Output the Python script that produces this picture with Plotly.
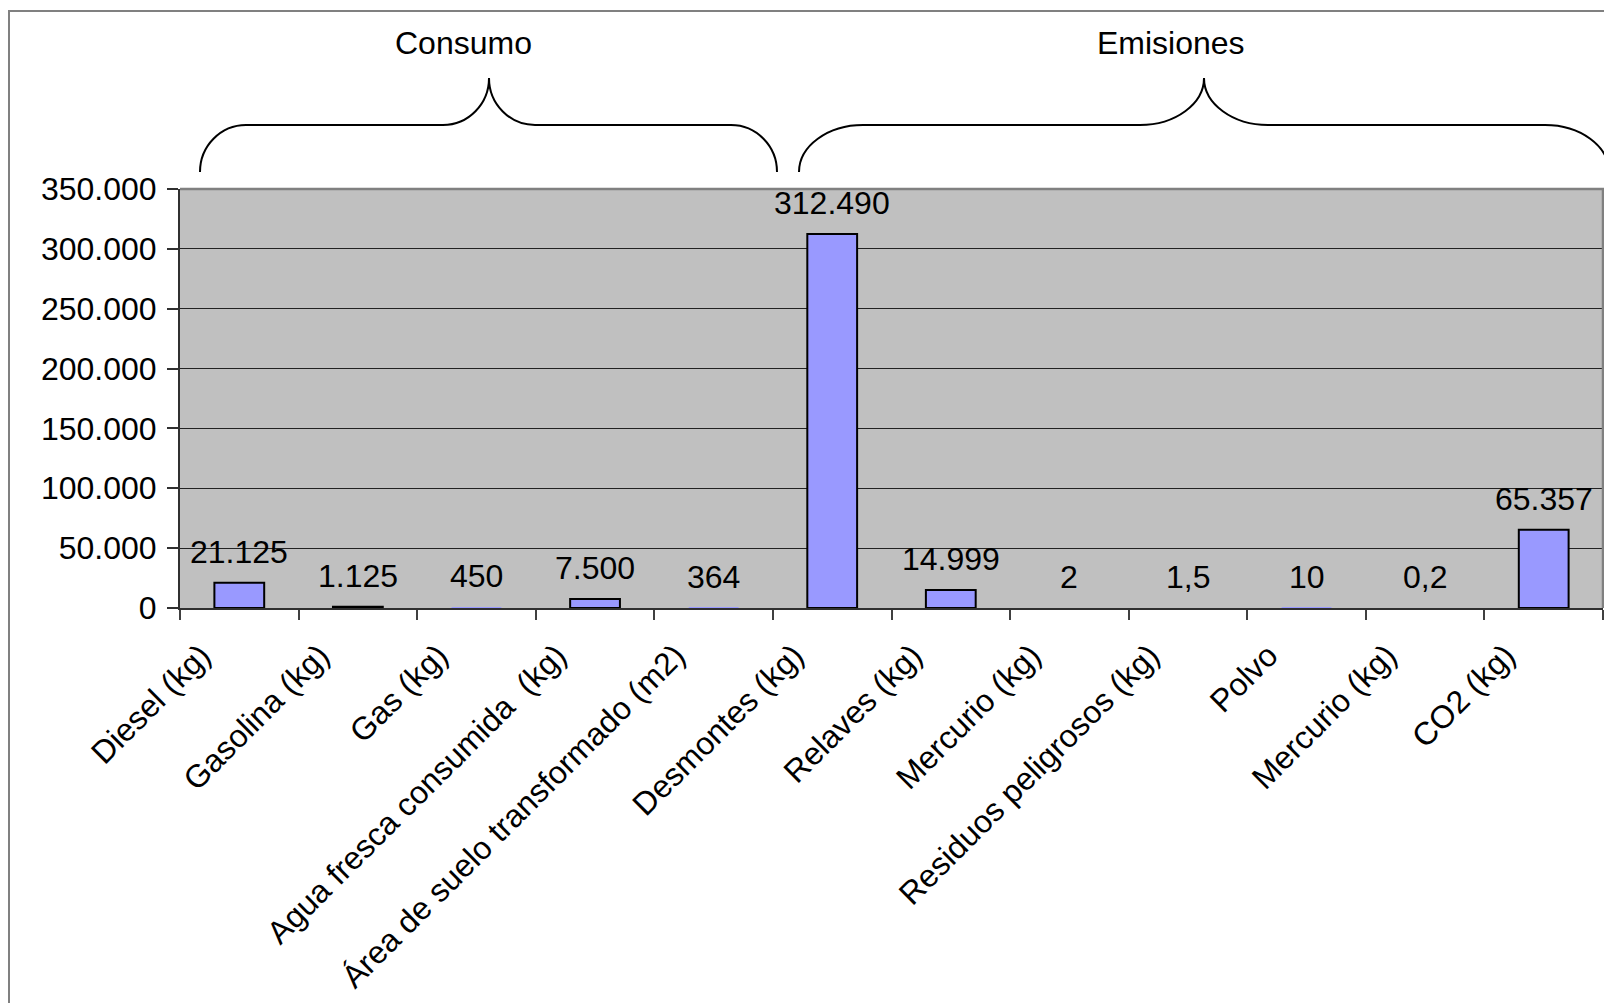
import plotly.graph_objects as go

categories = ["Diesel (kg)", "Gasolina (kg)", "Gas (kg)", "Agua fresca consumida  (kg)",
              "Área de suelo transformado (m2)", "Desmontes (kg)", "Relaves (kg)",
              "Mercurio (kg)", "Residuos peligrosos (kg)", "Polvo", "Mercurio (kg)", "CO2 (kg)"]
values = [21125, 1125, 450, 7500, 364, 312490, 14999, 2, 1.5, 10, 0.2, 65357]
group_labels = ["Consumo", "Emisiones"]

OFF = 8  # browser default body margin
W, H = 1612 - OFF, 1003 - OFF
L, R, T, B = 180, 1603, 189, 608  # plot area in page px
FONT = "Liberation Sans, Arial, sans-serif"
FS = 32


def es(v):
    if float(v).is_integer():
        return f"{int(v):,}".replace(",", ".")
    return str(v).replace(".", ",")


def px(x, y):
    return (x - L) / (R - L), (B - y) / (B - T)


def path(points_cmds):
    out = []
    for cmd, pts in points_cmds:
        coords = " ".join("%.5f,%.5f" % px(x, y) for x, y in pts)
        out.append(f"{cmd} {coords}")
    return " ".join(out)


def brace(x0, x1, xm, cw, ytop=78, yh=125, ybot=172):
    tw = cw
    return path([
        ("M", [(x0, ybot)]),
        ("C", [(x0, ybot - 26), (x0 + cw * 0.45, yh), (x0 + cw, yh)]),
        ("L", [(xm - tw, yh)]),
        ("C", [(xm - tw * 0.45, yh), (xm, yh - 21), (xm, ytop)]),
        ("C", [(xm, yh - 21), (xm + tw * 0.45, yh), (xm + tw, yh)]),
        ("L", [(x1 - cw, yh)]),
        ("C", [(x1 - cw * 0.45, yh), (x1, ybot - 26), (x1, ybot)]),
    ])


xs = list(range(len(categories)))
# bars thinner than about one pixel are not outlined in the original
outline_w = [2 if v >= 1000 else 0 for v in values]

fig = go.Figure()
fig.add_trace(go.Bar(
    x=xs, y=values, width=0.42,
    marker=dict(color="#9999FF", line=dict(color="#000000", width=outline_w)),
    showlegend=False, hoverinfo="skip",
))

annotations = []
for i, v in enumerate(values):
    annotations.append(dict(x=i, y=v, xref="x", yref="y", text=es(v), showarrow=False,
                            yanchor="bottom", yshift=11,
                            font=dict(family=FONT, size=FS, color="#000000")))

cx0, _ = px(463, 0)
cx1, _ = px(1171, 0)
_, ty = px(0, 43)
annotations.append(dict(x=cx0, y=ty, xref="paper", yref="paper", text=group_labels[0],
                        showarrow=False, yanchor="middle", xanchor="center",
                        font=dict(family=FONT, size=FS, color="#000000")))
annotations.append(dict(x=cx1, y=ty, xref="paper", yref="paper", text=group_labels[1],
                        showarrow=False, yanchor="middle", xanchor="center",
                        font=dict(family=FONT, size=FS, color="#000000")))

bx0, by0 = px(9, 11)
bx1, by1 = px(1700, 1100)

shapes = [
    dict(type="path", xref="paper", yref="paper", path=brace(200, 777, 489, 46),
         line=dict(color="#000000", width=2)),
    dict(type="path", xref="paper", yref="paper", path=brace(799, 1609, 1204, 64),
         line=dict(color="#000000", width=2)),
    dict(type="path", xref="paper", yref="paper", path="M 0,1 L 1,1 L 1,0",
         line=dict(color="#808080", width=2.5), layer="above"),
    dict(type="rect", xref="paper", yref="paper", x0=bx0, y0=by0, x1=bx1, y1=by1,
         line=dict(color="#808080", width=2), fillcolor="rgba(0,0,0,0)"),
]

fig.update_layout(
    width=W, height=H,
    margin=dict(l=L - OFF, r=W - (R - OFF), t=T - OFF, b=H - (B - OFF), pad=0),
    paper_bgcolor="#FFFFFF", plot_bgcolor="#C0C0C0",
    separators=",.",
    font=dict(family=FONT, size=FS, color="#000000"),
    bargap=0.58,
    annotations=annotations,
    shapes=shapes,
    xaxis=dict(
        range=[-0.5, len(categories) - 0.5],
        tickmode="array", tickvals=xs, ticktext=categories,
        tickangle=-45, ticks="", showgrid=False, zeroline=False,
        showline=True, linecolor="#303030", linewidth=2,
        tickfont=dict(family=FONT, size=FS, color="#000000"),
        ticklabelshift=-38, ticklabelstandoff=14,
        minor=dict(ticks="outside", ticklen=10, tickwidth=1.5, tickcolor="#404040",
                   tickmode="linear", tick0=-0.5, dtick=1, showgrid=False),
        fixedrange=True,
    ),
    yaxis=dict(
        range=[0, 350000], tickmode="linear", tick0=0, dtick=50000,
        tickformat=",.0f", ticks="outside", ticklen=11, tickwidth=1.5, tickcolor="#303030",
        showgrid=True, gridcolor="#222222", gridwidth=1.3,
        zeroline=False, showline=True, linecolor="#303030", linewidth=2,
        tickfont=dict(family=FONT, size=FS, color="#000000"),
        ticklabelstandoff=4,
        fixedrange=True,
    ),
)

fig.write_html("out.html", config=dict(displayModeBar=False))
